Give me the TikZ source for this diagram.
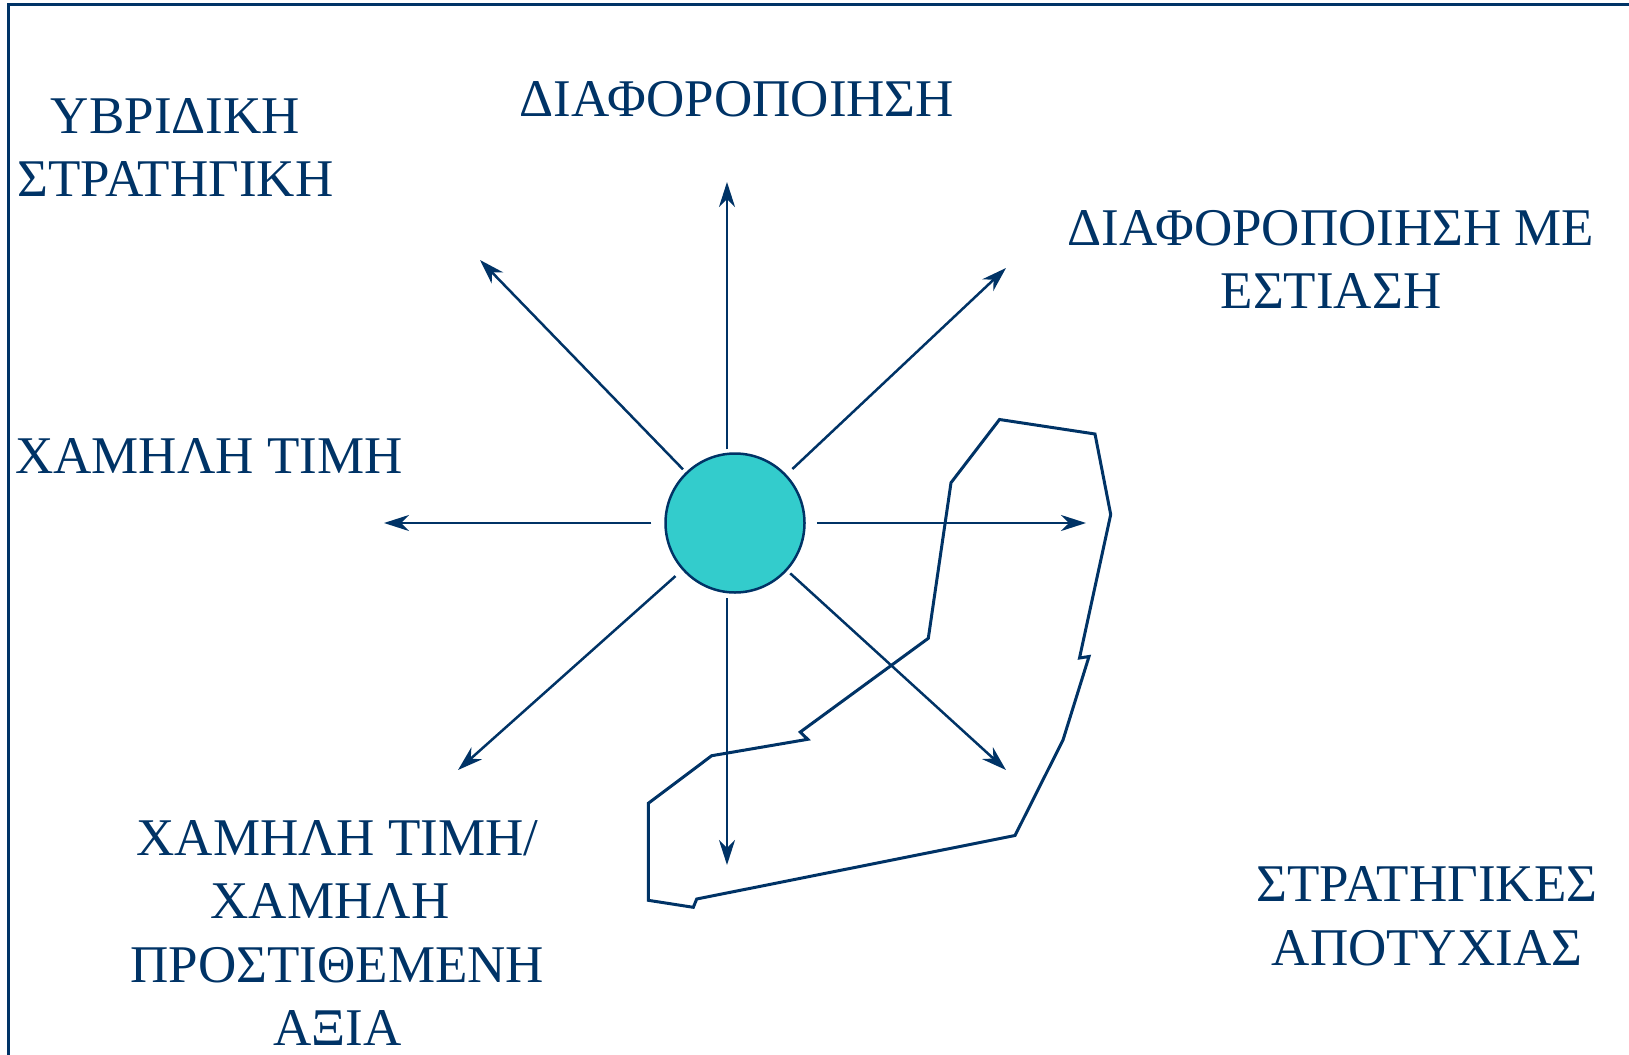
\documentclass[tikz,border=0pt]{standalone}
\usepackage{fontspec}
\setmainfont{Liberation Serif}
\usetikzlibrary{arrows.meta}
\definecolor{navy}{HTML}{003366}
\definecolor{hubFill}{HTML}{33CCCC}
\tikzset{
  base/.style={font=\fontsize{53}{63.5}\selectfont, text=navy},
  strat/.style={base, align=center, anchor=north, inner sep=0pt},
  hub/.style={circle, draw=navy, line width=2.5pt, fill=hubFill, minimum size=139pt, inner sep=0pt},
  spoke/.style={-{Stealth[length=25pt,width=16pt,inset=8pt]}, line width=2.5pt, draw=navy},
  zone/.style={draw=navy, line width=3pt, line join=miter},
  frame/.style={draw=navy, line width=3pt},
}
\begin{document}
\begin{tikzpicture}[x=1pt,y=-1pt]
  \useasboundingbox (0,0) rectangle (1629,1054);
  \draw[frame] (8,1070) -- (8,5) -- (1645,5);

  \node[hub] (hub) at (735,523) {};

  \coordinate (tipN) at (727,182);
  \coordinate (tipS) at (727,865);
  \coordinate (tipW) at (384,523);
  \coordinate (tipE) at (1086,523);
  \coordinate (tipNW) at (480,260);
  \coordinate (tipNE) at (1006,268);
  \coordinate (tipSW) at (458,770);
  \coordinate (tipSE) at (1006,770);

  \draw[spoke, shorten <=3pt] (tipN |- hub.north) -- (tipN);
  \draw[spoke, shorten <=4.5pt] (tipS |- hub.south) -- (tipS);
  \draw[spoke, shorten <=13pt] (hub.west) -- (tipW);
  \draw[spoke, shorten <=11pt] (hub.east) -- (tipE);
  \draw[spoke, shorten <=4pt] (hub) -- (tipNW);
  \draw[spoke, shorten <=8pt] (hub) -- (tipNE);
  \draw[spoke, shorten <=9pt] (hub) -- (tipSW);
  \draw[spoke, shorten <=4pt] (hub) -- (tipSE);

  \draw[zone] (999.5,419.5) -- (1095,434) -- (1110.7,514.5) -- (1079.5,658) -- (1089,656.5)
    -- (1063,740) -- (1015,835.5) -- (696.7,899) -- (693.3,907.3) -- (648.3,900.3)
    -- (648.3,803.3) -- (711.7,755.7) -- (807.7,739.3) -- (800.3,732) -- (928.3,638.3)
    -- (951,482.7) -- cycle;

  \node[strat] (diff) at (737,81.3) {ΔΙΑΦΟΡΟΠΟΙΗΣΗ};
  \node[strat] (hybrid) at (175.5,98) {ΥΒΡΙΔΙΚΗ\\ΣΤΡΑΤΗΓΙΚΗ};
  \node[strat] (focus) at (1331,210) {ΔΙΑΦΟΡΟΠΟΙΗΣΗ ΜΕ\\ΕΣΤΙΑΣΗ};
  \node[strat] (low) at (209,438) {ΧΑΜΗΛΗ ΤΙΜΗ};
  \node[strat] (lowlow) at (337.5,820) {ΧΑΜΗΛΗ ΤΙΜΗ/\\ΧΑΜΗΛΗ\rule{15pt}{0pt}\\ΠΡΟΣΤΙΘΕΜΕΝΗ\\ΑΞΙΑ};
  \node[strat] (fail) at (1427,866.5) {ΣΤΡΑΤΗΓΙΚΕΣ\\ΑΠΟΤΥΧΙΑΣ};
\end{tikzpicture}
\end{document}
